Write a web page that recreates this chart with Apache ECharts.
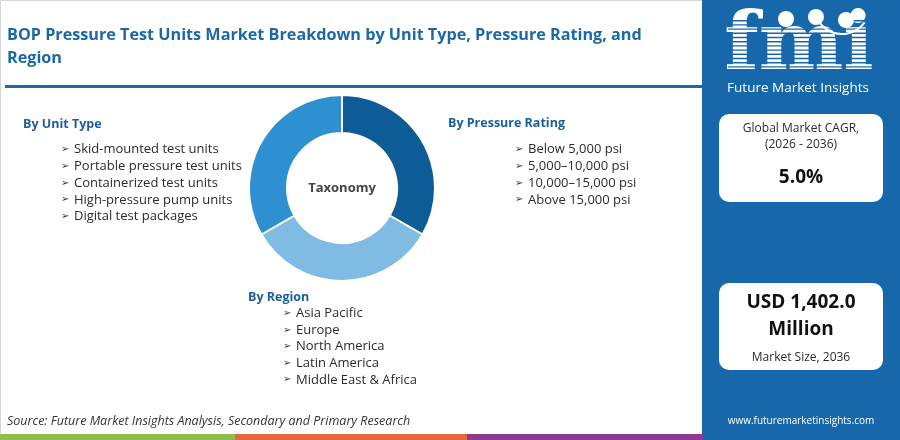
<!DOCTYPE html>
<html><head><meta charset="utf-8">
<script src="https://cdn.jsdelivr.net/npm/echarts@6/dist/echarts.min.js"></script>
<style>html,body{margin:0;padding:0;background:#fff}#c{width:900px;height:440px}</style>
</head><body><div id="c"></div>
<script>
const titleLines = ["BOP Pressure Test Units Market Breakdown by Unit Type, Pressure Rating, and", "Region"];
const segmentNames = ["By Pressure Rating", "By Region", "By Unit Type"];
const segmentValues = [1, 1, 1];
const segmentColors = ["#0e5c96", "#7fbbe3", "#2e8fd1"];
const unitTypes = ["Skid-mounted test units", "Portable pressure test units", "Containerized test units", "High-pressure pump units", "Digital test packages"];
const pressureRatings = ["Below 5,000 psi", "5,000\u201310,000 psi", "10,000\u201315,000 psi", "Above 15,000 psi"];
const regions = ["Asia Pacific", "Europe", "North America", "Latin America", "Middle East & Africa"];
const cagrLabel = ["Global Market CAGR,", "(2026 - 2036)"];
const cagrValue = "5.0%";
const sizeValue = ["USD 1,402.0", "Million"];
const sizeLabel = "Market Size, 2036";
const sourceText = "Source: Future Market Insights Analysis, Secondary and Primary Research";
const website = "www.futuremarketinsights.com";

const FONT = '"Open Sans"';
const HEAD = "#1c68a6";
const TXT = "#2b2b2b";
const PANEL = "#1768ab";

const g = [];
g.push({type:'rect', shape:{x:0.5,y:0.5,width:702,height:439}, style:{fill:'#fff', stroke:'#d6d6d6', lineWidth:1}, z:0});
titleLines.forEach((t,i)=>g.push({type:'text', x:7, y:35+i*23, style:{text:t, font:`bold 16.2px ${FONT}`, fill:HEAD, textVerticalAlign:'middle'}, z:5}));
g.push({type:'rect', shape:{x:5,y:85,width:698,height:3}, style:{fill:HEAD}, z:5});

function block(title, items, hx, hy, ix, iy, step){
  g.push({type:'text', x:hx, y:hy, style:{text:title, font:`bold 12.5px ${FONT}`, fill:'#1a5e98', textVerticalAlign:'middle'}, z:5});
  items.forEach((t,i)=>{
    g.push({type:'text', x:ix, y:iy+i*step, style:{text:'\u27A2', font:`10px "DejaVu Sans"`, fill:'#333', textVerticalAlign:'middle'}, z:5});
    g.push({type:'text', x:ix+13, y:iy+i*step, style:{text:t, font:`13px ${FONT}`, fill:TXT, textVerticalAlign:'middle'}, z:5});
  });
}
block(segmentNames[2], unitTypes, 23, 124, 61, 149.5, 16.8);
block(segmentNames[0], pressureRatings, 448, 123, 515, 149.5, 16.8);
block(segmentNames[1], regions, 248, 297, 283, 313.5, 16.6);

g.push({type:'text', x:7, y:421, style:{text:sourceText, font:`italic 12.5px ${FONT}`, fill:'#333', textVerticalAlign:'middle'}, z:5});
[['#8cbf4a',0,235],['#e4683a',235,467],['#8e3a95',467,703]].forEach(s=>g.push({type:'rect', shape:{x:s[1],y:434,width:s[2]-s[1],height:6}, style:{fill:s[0]}, z:5}));

g.push({type:'rect', shape:{x:702,y:0,width:198,height:440}, style:{fill:PANEL}, z:1});
g.push({type:'text', x:799, y:48, style:{text:'fmi', font:`bold 80px "DejaVu Serif"`, fill:'#fff', textAlign:'center', textVerticalAlign:'middle'}, z:6});
for(let y=20;y<80;y+=4.2){ g.push({type:'rect', shape:{x:728,y:y,width:146,height:1.4}, style:{fill:PANEL}, z:7}); }
[[786,19],[816,17],[846,20]].forEach(c=>g.push({type:'circle', shape:{cx:c[0],cy:c[1],r:8}, style:{fill:'#fff'}, z:8}));
g.push({type:'arc', shape:{cx:842,cy:6,r:28,startAngle:Math.PI*0.2,endAngle:Math.PI*0.8}, style:{stroke:'#fff', lineWidth:2, fill:null}, z:8});
g.push({type:'text', x:798, y:88, style:{text:'Future Market Insights', font:`13.5px ${FONT}`, fill:'#fff', textAlign:'center', textVerticalAlign:'middle'}, z:6});
g.push({type:'rect', shape:{x:719,y:114,width:164,height:88,r:10}, style:{fill:'#fff'}, z:6});
g.push({type:'rect', shape:{x:719,y:283,width:164,height:87,r:10}, style:{fill:'#fff'}, z:6});
cagrLabel.forEach((t,i)=>g.push({type:'text', x:801, y:129+i*16, style:{text:t, font:`12px ${FONT}`, fill:TXT, textAlign:'center', textVerticalAlign:'middle'}, z:7}));
g.push({type:'text', x:801, y:178, style:{text:cagrValue, font:`bold 19px ${FONT}`, fill:'#111', textAlign:'center', textVerticalAlign:'middle'}, z:7});
sizeValue.forEach((t,i)=>g.push({type:'text', x:801, y:303+i*27, style:{text:t, font:`bold 19px ${FONT}`, fill:'#111', textAlign:'center', textVerticalAlign:'middle'}, z:7}));
g.push({type:'text', x:801, y:358, style:{text:sizeLabel, font:`12px ${FONT}`, fill:TXT, textAlign:'center', textVerticalAlign:'middle'}, z:7});
g.push({type:'text', x:801, y:421, style:{text:website, font:`10px ${FONT}`, fill:'#fff', textAlign:'center', textVerticalAlign:'middle'}, z:7});

const chart = echarts.init(document.getElementById('c'), null, {renderer:'canvas'});
chart.setOption({
  animation:false,
  graphic: g,
  series:[{
    type:'pie', center:[342,188], radius:[55,93], startAngle:90, clockwise:true, z:10,
    silent:true,
    label:{show:true, position:'center', formatter:'Taxonomy', fontFamily:'Open Sans', fontWeight:'bold', fontSize:13, color:'#444'},
    labelLine:{show:false},
    itemStyle:{borderColor:'#fff', borderWidth:2},
    data: segmentNames.map((n,i)=>({name:n, value:segmentValues[i], itemStyle:{color:segmentColors[i]}}))
  }]
});
</script></body></html>
